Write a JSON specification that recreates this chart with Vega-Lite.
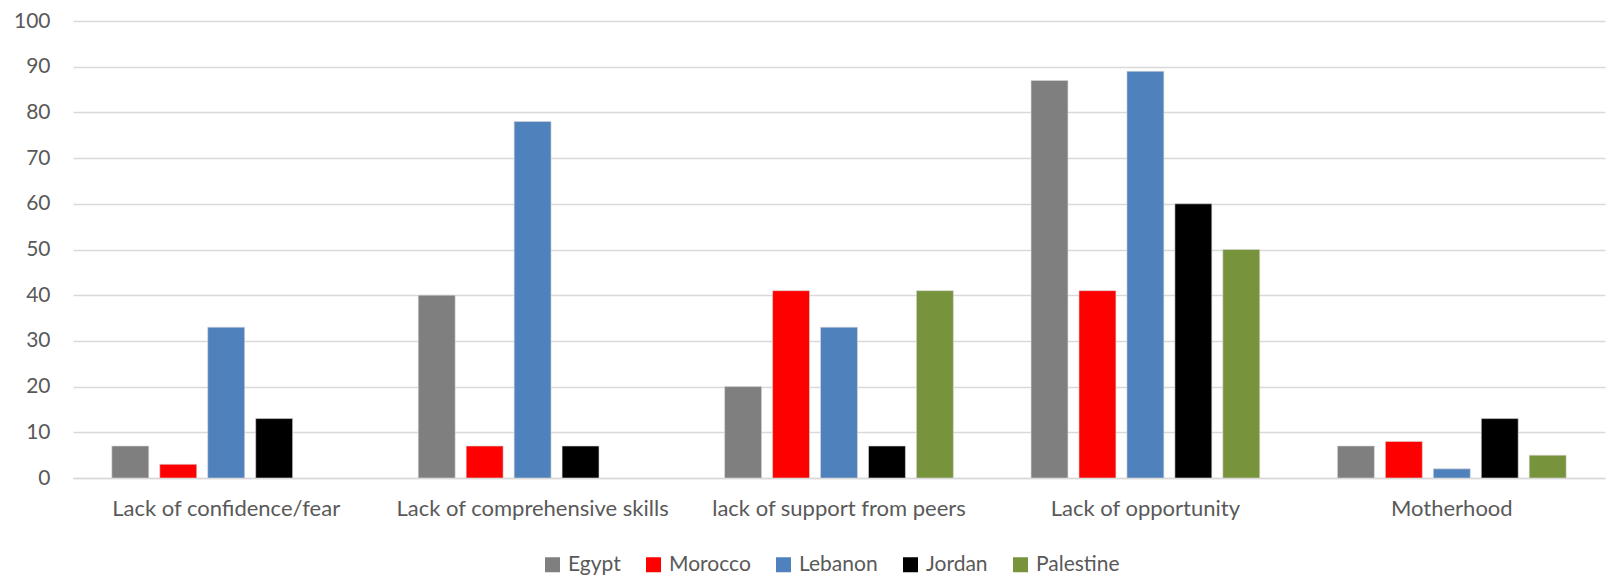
{
  "$schema": "https://vega.github.io/schema/vega-lite/v6.json",
  "autosize": {"type": "fit", "contains": "padding"},
  "width": 1608,
  "height": 576,
  "padding": {"left": 13, "top": 10, "right": 3, "bottom": 57},
  "background": "white",
  "config": {
    "view": {"stroke": null},
    "font": "Lato",
    "axis": {"labelColor": "#595959", "labelFont": "Lato", "labelFontSize": 21}
  },
  "data": {
    "values": [
      {"cause": "Lack of confidence/fear", "country": "Egypt", "value": 7},
      {"cause": "Lack of confidence/fear", "country": "Morocco", "value": 3},
      {"cause": "Lack of confidence/fear", "country": "Lebanon", "value": 33},
      {"cause": "Lack of confidence/fear", "country": "Jordan", "value": 13},
      {"cause": "Lack of comprehensive skills", "country": "Egypt", "value": 40},
      {"cause": "Lack of comprehensive skills", "country": "Morocco", "value": 7},
      {"cause": "Lack of comprehensive skills", "country": "Lebanon", "value": 78},
      {"cause": "Lack of comprehensive skills", "country": "Jordan", "value": 7},
      {"cause": "lack of support from peers", "country": "Egypt", "value": 20},
      {"cause": "lack of support from peers", "country": "Morocco", "value": 41},
      {"cause": "lack of support from peers", "country": "Lebanon", "value": 33},
      {"cause": "lack of support from peers", "country": "Jordan", "value": 7},
      {"cause": "lack of support from peers", "country": "Palestine", "value": 41},
      {"cause": "Lack of opportunity", "country": "Egypt", "value": 87},
      {"cause": "Lack of opportunity", "country": "Morocco", "value": 41},
      {"cause": "Lack of opportunity", "country": "Lebanon", "value": 89},
      {"cause": "Lack of opportunity", "country": "Jordan", "value": 60},
      {"cause": "Lack of opportunity", "country": "Palestine", "value": 50},
      {"cause": "Motherhood", "country": "Egypt", "value": 7},
      {"cause": "Motherhood", "country": "Morocco", "value": 8},
      {"cause": "Motherhood", "country": "Lebanon", "value": 2},
      {"cause": "Motherhood", "country": "Jordan", "value": 13},
      {"cause": "Motherhood", "country": "Palestine", "value": 5}
    ]
  },
  "mark": {"type": "bar", "stroke": "#d9d9d9", "strokeWidth": 0.6},
  "encoding": {
    "x": {
      "field": "cause", "type": "nominal", "sort": null, "title": null,
      "scale": {"paddingInner": 0, "paddingOuter": 0},
      "axis": {"labelAngle": 0, "ticks": false, "domainColor": "#d9d9d9", "domainWidth": 1.5, "labelPadding": 20, "labelLimit": 400, "labelFontSize": 22}
    },
    "xOffset": {
      "field": "country", "type": "nominal",
      "scale": {"domain": ["Egypt", "Morocco", "Lebanon", "Jordan", "Palestine"], "paddingInner": 0.23, "paddingOuter": 0.81}
    },
    "y": {
      "field": "value", "type": "quantitative", "title": null,
      "scale": {"domain": [0, 100]},
      "axis": {"values": [0,10,20,30,40,50,60,70,80,90,100], "labelOverlap": false, "domain": false, "ticks": false, "gridColor": "#d9d9d9", "gridWidth": 1.5, "labelPadding": 23}
    },
    "color": {
      "field": "country", "type": "nominal", "title": null,
      "scale": {"domain": ["Egypt", "Morocco", "Lebanon", "Jordan", "Palestine"], "range": ["#7f7f7f", "#ff0000", "#4f81bd", "#000000", "#77933c"]},
      "legend": {"orient": "none", "legendX": 469, "legendY": 533, "direction": "horizontal", "symbolType": "square", "symbolSize": 225, "symbolStrokeWidth": 0, "labelFontSize": 21, "labelColor": "#595959", "labelFont": "Lato", "columnPadding": 22, "labelOffset": 5}
    }
  }
}
